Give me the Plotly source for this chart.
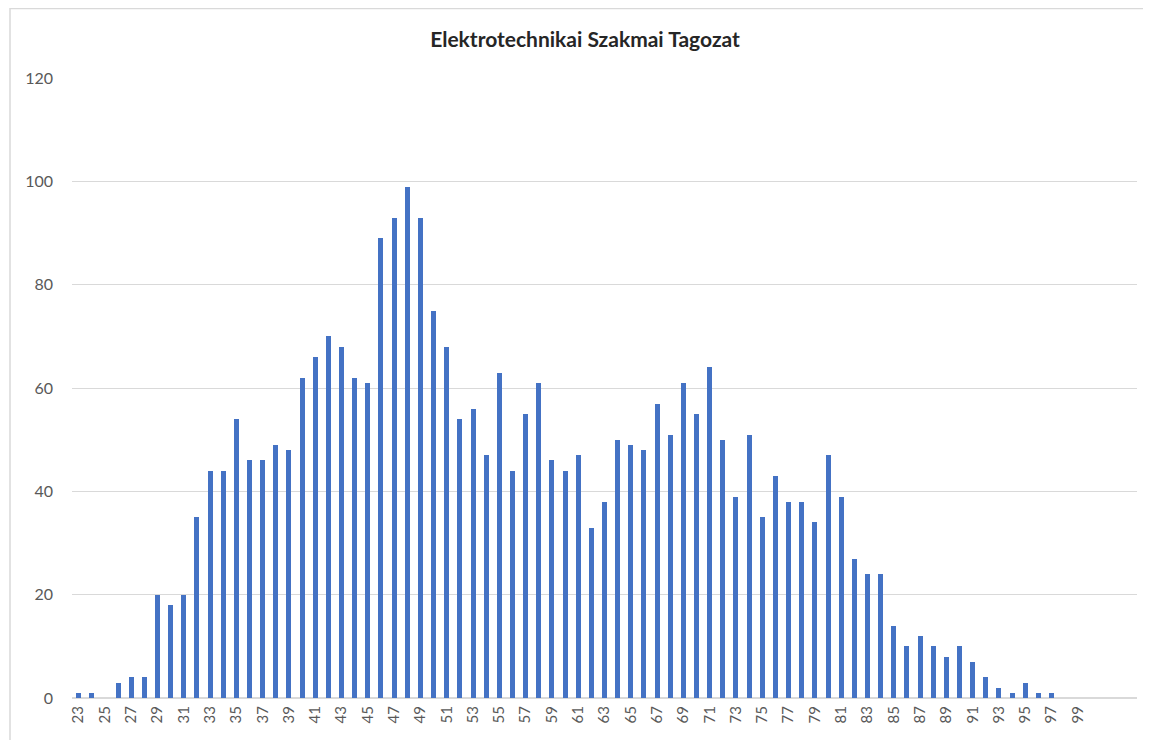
import plotly.graph_objects as go

categories = list(range(23, 104))
values = [1, 1, 0, 3, 4, 4, 20, 18, 20, 35,
          44, 44, 54, 46, 46, 49, 48, 62, 66, 70,
          68, 62, 61, 89, 93, 99, 93, 75, 68, 54,
          56, 47, 63, 44, 55, 61, 46, 44, 47, 33,
          38, 50, 49, 48, 57, 51, 61, 55, 64, 50,
          39, 51, 35, 43, 38, 38, 34, 47, 39, 27,
          24, 24, 14, 10, 12, 10, 8, 10, 7, 4,
          2, 1, 3, 1, 1, 0, 0, 0, 0, 0, 0]
tick_labels = [str(v) for v in range(23, 100, 2)]
y_ticks = [0, 20, 40, 60, 80, 100, 120]

font_fam = "Lato, Open Sans, sans-serif"

# page body has an 8px default margin, so figure coordinates are offset by 8px
L, T = 64, 70
PW, PH = 1065, 620

fig = go.Figure(go.Bar(
    x=categories, y=values, width=0.38,
    marker=dict(color="#4472C4", line=dict(width=0)),
))

fig.update_layout(
    width=1151, height=740,
    margin=dict(l=L, r=1151 - L - PW, t=T, b=740 - T - PH, autoexpand=False),
    paper_bgcolor="white", plot_bgcolor="white",
    title=dict(text="<b>Elektrotechnikai Szakmai Tagozat</b>", x=577 / 1151, xanchor="center",
               y=1 - 32 / 740, yanchor="middle",
               font=dict(family=font_fam, size=21, color="#262626")),
    showlegend=False,
    bargap=0,
    xaxis=dict(range=[22.5, 103.5], tickmode="array",
               tickvals=[int(t) for t in tick_labels], ticktext=tick_labels,
               tickangle=-90, showgrid=False, showline=False, zeroline=False,
               ticks="", ticklabelstandoff=4,
               tickfont=dict(family=font_fam, size=15, color="#595959")),
    yaxis=dict(range=[0, 120], tickvals=y_ticks, showgrid=True, gridcolor="#d9d9d9",
               gridwidth=1, zeroline=True, zerolinecolor="#d9d9d9", showline=False,
               ticks="", ticklabelstandoff=18,
               tickfont=dict(family=font_fam, size=16, color="#595959")),
    shapes=[dict(type="rect", xref="paper", yref="paper",
                 x0=(2 - L) / PW, x1=1.2, y0=-0.3, y1=1 + (T - 0.5) / PH,
                 line=dict(color="#d9d9d9", width=1.5), layer="below")],
)

fig.write_html("out.html")
